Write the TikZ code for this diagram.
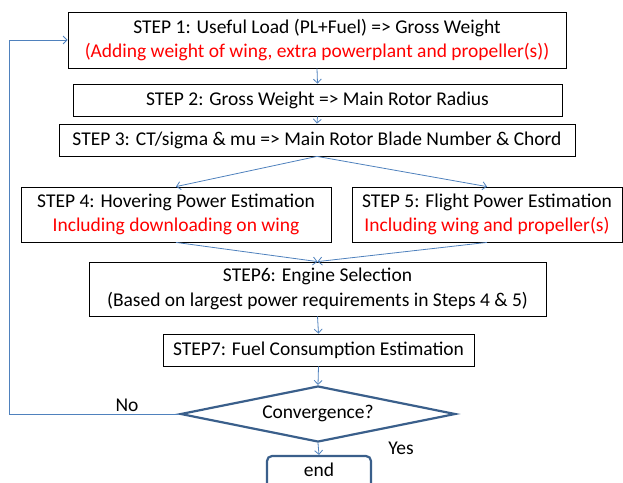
\documentclass[tikz,border=0pt]{standalone}
\usepackage{fontspec}
\setmainfont{Carlito}
\usetikzlibrary{shapes.geometric,arrows.meta}
\definecolor{linkblue}{HTML}{4F81BD}
\definecolor{darkblue}{HTML}{3A5F8B}
\newcommand{\rd}[1]{\textcolor{red}{#1}}

\tikzset{
  stepbox/.style={draw=black, line width=0.8pt, rectangle, inner sep=0pt, align=center,
    font=\fontsize{19.5}{24.5}\selectfont},
  link/.style={draw=linkblue, line width=0.8pt, -{Straight Barb[length=4pt,width=8pt]}},
  decision/.style={draw=darkblue, line width=2.2pt, diamond, aspect=4.9, inner sep=0pt,
    minimum width=275pt, minimum height=56pt, font=\fontsize{19.5}{22}\selectfont},
  endbox/.style={draw=darkblue, line width=2.2pt, rectangle, rounded corners=5pt, inner sep=0pt,
    minimum width=104pt, minimum height=36pt},
  lbl/.style={font=\fontsize{19.5}{22}\selectfont, inner sep=0pt}
}

\begin{document}
\begin{tikzpicture}[x=1pt, y=-1pt]
    \clip (0,0) rectangle (623,482);
    % steps
    \node[stepbox, minimum width=498pt, minimum height=56pt] (box1) at (317,40)
      {STEP 1: Useful Load (PL+Fuel) => Gross Weight\\ \rd{(Adding weight of wing, extra powerplant and propeller(s))}};
    \node[stepbox, minimum width=489pt, minimum height=32pt] (box2) at (317.5,100)
      {STEP 2: Gross Weight => Main Rotor Radius};
    \node[stepbox, minimum width=516pt, minimum height=32pt] (box3) at (317,140)
      {STEP 3: CT/sigma \& mu => Main Rotor Blade Number \& Chord};
    \node[stepbox, minimum width=310pt, minimum height=55pt] (box4) at (176,214.5)
      {STEP 4: Hovering Power Estimation\\ \rd{Including downloading on wing}};
    \node[stepbox, minimum width=270pt, minimum height=55pt] (box5) at (487,214.5)
      {STEP 5: Flight Power Estimation\\ \rd{Including wing and propeller(s)}};
    \node[stepbox, minimum width=457pt, minimum height=54pt] (box6) at (317.5,289)
      {STEP6: Engine Selection\\ (Based on largest power requirements in Steps 4 \& 5)};
    \node[stepbox, minimum width=311pt, minimum height=32pt] (box7) at (318.5,350)
      {STEP7: Fuel Consumption Estimation};
    \node[decision] (conv) at (318,414) {Convergence?};
    \node[endbox] (stop) at (319,474) {};
    \node[lbl] (stoplbl) at (319,470) {end};
    % connectors
    \draw[link] (box1.south) -- (box2.north);
    \draw[link] (box2.south) -- (box3.north);
    \draw[link] (box3.south) -- (box4.north);
    \draw[link] (box3.south) -- (box5.north);
    \draw[link] (box4.south) -- (box6.north);
    \draw[link] (box5.south) -- (box6.north);
    \draw[link] (box6.south) -- (box7.north);
    \draw[link] (box7.south) -- (conv.north);
    \draw[link] (conv.south) -- (stop.north);
    \coordinate (loop) at (9,414);
    \draw[link] (conv.west) -- (loop) |- (box1.west);
    \node[lbl] (no) at (127,405) {No};
    \node[lbl] (yes) at (401,448) {Yes};
\end{tikzpicture}
\end{document}
